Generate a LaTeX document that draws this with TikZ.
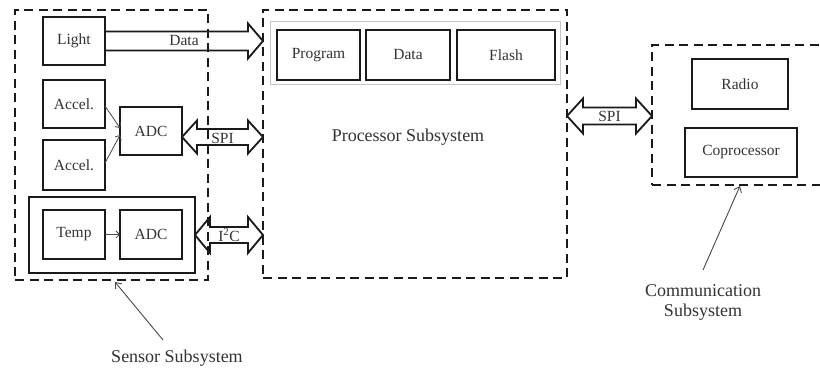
\documentclass[tikz,border=0pt]{standalone}
\usepackage{fontspec}
\setmainfont{Liberation Serif}
\usetikzlibrary{arrows.meta,calc}

\definecolor{ink}{HTML}{1A1A1A}
\definecolor{txt}{HTML}{333333}

% hollow block arrow with a head at the far end
\newcommand\blockarrowone[5]{%
  \draw[blockarrow] let \p1=(#1), \p2=(#2) in
    (\x1,\y1+#3) -- (\x2-#5,\y1+#3) -- (\x2-#5,\y1+#4) -- (\x2,\y1)
    -- (\x2-#5,\y1-#4) -- (\x2-#5,\y1-#3) -- (\x1,\y1-#3);}
% hollow block arrow with heads at both ends
\newcommand\blockarrowtwo[5]{%
  \draw[blockarrow] let \p1=(#1), \p2=(#2) in
    (\x1,\y1) -- (\x1+#5,\y1+#4) -- (\x1+#5,\y1+#3) -- (\x2-#5,\y1+#3)
    -- (\x2-#5,\y1+#4) -- (\x2,\y1) -- (\x2-#5,\y1-#4) -- (\x2-#5,\y1-#3)
    -- (\x1+#5,\y1-#3) -- (\x1+#5,\y1-#4) -- cycle;}

\begin{document}
\begin{tikzpicture}[x=1pt,y=-1pt,
  every node/.style={text=txt},
  box/.style={draw=ink, line width=1.8pt, anchor=north west, inner sep=0pt,
    outer sep=0pt, font=\fontsize{15.5}{18}\selectfont},
  subsys/.style={draw=ink, line width=2.2pt, dash pattern=on 9pt off 5.5pt,
    anchor=north west, inner sep=0pt, outer sep=0pt},
  memgroup/.style={draw=gray!45, line width=1pt, anchor=north west,
    inner sep=0pt, outer sep=0pt},
  blockarrow/.style={draw=ink, line width=1.8pt, line join=miter},
  smallarrow/.style={draw=ink!80, line width=0.8pt,
    -{Straight Barb[length=3.5pt,width=7pt]}},
  pointer/.style={draw=ink!80, line width=0.9pt,
    -{Straight Barb[length=5pt,width=8pt]}},
  lbl/.style={font=\fontsize{15.5}{18}\selectfont, inner sep=0pt},
  caption/.style={font=\fontsize{18}{20}\selectfont, align=center, inner sep=0pt}]

\clip (0,0) rectangle (820,371);
\fill[white] (0,0) rectangle (820,371);

% subsystem outlines
\node[subsys, minimum width=193pt, minimum height=270pt] (sensor) at (15,10) {};
\node[subsys, minimum width=304pt, minimum height=268pt] (proc) at (263,10) {};
\node[subsys, minimum width=180pt, minimum height=140pt] (comm) at (652,45) {};

% sensor subsystem
\node[box, minimum width=62pt, minimum height=48pt] (light) at (43,17) {Light};
\node[box, minimum width=62pt, minimum height=48pt] (accela) at (43,80) {Accel.};
\node[box, minimum width=62pt, minimum height=50pt] (accelb) at (43,140) {Accel.};
\node[box, minimum width=62pt, minimum height=48pt] (adca) at (120,107) {ADC};
\node[box, minimum width=166pt, minimum height=76pt] (tempgrp) at (29,197) {};
\node[box, minimum width=62pt, minimum height=49pt] (temp) at (43,210) {Temp};
\node[box, minimum width=62pt, minimum height=49pt] (adcb) at (120,210) {ADC};

\draw[smallarrow] ([yshift=-2pt]accela.east) -- ([yshift=3pt]adca.west);
\draw[smallarrow] ([yshift=2pt]accelb.east) -- ([yshift=-4pt]adca.west);
\draw[smallarrow] (temp.east) -- (adcb.west);

% processor subsystem
\node[memgroup, minimum width=290pt, minimum height=63pt] (mem) at (270,22) {};
\node[box, minimum width=83pt, minimum height=50pt] (program) at (277,30) {Program};
\node[box, minimum width=84pt, minimum height=50pt] (data) at (366,30) {Data};
\node[box, minimum width=98pt, minimum height=50pt] (flash) at (457,30) {Flash};
\node[caption] (proclabel) at (408,137) {Processor Subsystem};

% communication subsystem
\node[box, minimum width=96pt, minimum height=50pt] (radio) at (692,59) {Radio};
\node[box, minimum width=112pt, minimum height=49pt] (coproc) at (685,128) {Coprocessor};

% buses between subsystems
\coordinate (dataend) at (proc.west |- light.east);
\blockarrowone{light.east}{dataend}{9.5pt}{17.5pt}{15pt}
\path (light.east) -- (dataend) node[lbl, midway] {Data};

\coordinate (spia) at ([yshift=-6pt]adca.east);
\coordinate (spiaend) at (proc.west |- spia);
\blockarrowtwo{spia}{spiaend}{8pt}{16.5pt}{15pt}
\path (spia) -- (spiaend) node[lbl, midway, yshift=-1pt] {SPI};

\coordinate (i2cend) at (proc.west |- tempgrp.east);
\blockarrowtwo{tempgrp.east}{i2cend}{8pt}{18pt}{15pt}
\path (tempgrp.east) -- (i2cend) node[lbl, midway] {I\textsuperscript{2}C};

\coordinate (spib) at (proc.east |- 0,116);
\coordinate (spibend) at (comm.west |- spib);
\blockarrowtwo{spib}{spibend}{8.5pt}{17.5pt}{16pt}
\path (spib) -- (spibend) node[lbl, midway] {SPI};

% subsystem captions
\node[caption] (sensorlabel) at (177,358) {Sensor Subsystem};
\coordinate (sensortail) at (163,340);
\draw[pointer] (sensortail) -- ([xshift=4pt,yshift=-2pt]sensor.south west -| 111,0);

\node[caption, text depth=0pt] (commlabel) at (703,301) {Communication\\Subsystem};
\coordinate (commtail) at (703,270);
\draw[pointer] (commtail) -- ([yshift=-1pt]comm.south west -| 740,0);
\end{tikzpicture}
\end{document}
